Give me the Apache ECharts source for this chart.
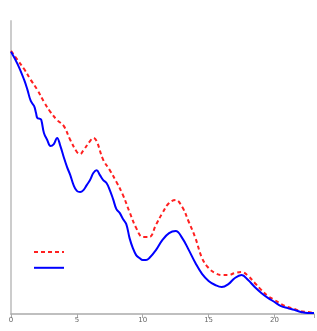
<!DOCTYPE html>
<html><head><meta charset="utf-8">
<script src="https://cdn.jsdelivr.net/npm/echarts@6/dist/echarts.min.js"></script>
<style>html,body{margin:0;padding:0;background:#fff}#c{width:317px;height:331px}</style>
</head><body><div id="c"></div>
<script>
const xTicks = [0, 5, 10, 15, 20];
const redX = [0,0.5,1,1.5,2,2.5,3,3.5,4,4.5,5,5.25,5.5,6,6.25,6.5,7,7.5,8,8.5,9,9.5,10,10.5,11,11.5,12,12.5,13,13.5,14,14.5,15,15.5,16,16.5,17,17.5,18,18.5,19,19.5,20,20.5,21,21.5,22,22.5,23];
const redY = [89.8,86.7,83.6,79.9,76.5,72.4,68.9,66.2,64.2,59.4,55.3,54.6,55.9,59.0,60.1,59.0,52.6,49.1,45.1,40.6,34.8,29.4,26.3,26.3,30.4,34.5,37.9,38.9,36.5,31.4,25.9,19.1,15.7,14.0,13.3,13.3,14.0,14.3,13.0,10.6,8.2,6.1,4.8,3.4,2.4,1.7,1.0,0.7,0.3];
const blueX = [0,0.5,1,1.25,1.5,1.75,1.9,2,2.2,2.3,2.5,2.75,3,3.25,3.5,3.75,4,4.25,4.5,4.75,5,5.25,5.5,5.75,6,6.25,6.5,6.75,7,7.25,7.5,7.75,8,8.25,8.5,8.75,9,9.25,9.5,9.75,10,10.25,10.5,11,11.5,12,12.5,13,13.5,14,14.5,15,15.5,16,16.5,17,17.5,18,18.5,19,19.5,20,20.5,21,21.5,22,22.5,23];
const blueY = [89.5,85.3,79.9,76.5,72.7,71.0,68.6,66.9,66.6,66.2,61.8,59.4,57.3,58.0,60.1,57.3,53.6,50.2,47.4,44.0,42.0,41.6,42.3,44.0,45.7,48.1,49.1,47.4,45.7,44.7,42.3,39.2,35.8,34.5,32.4,30.7,25.9,22.5,20.1,19.1,18.4,18.4,19.1,21.8,25.3,27.6,28.3,25.9,21.8,17.4,13.7,11.3,9.9,9.2,10.2,12.3,13.3,11.6,9.2,7.2,5.5,4.1,2.7,2.0,1.4,0.7,0.3,0.3];

const chart = echarts.init(document.getElementById('c'), null, {renderer:'canvas'});
chart.setOption({
  animation: false,
  grid: {left: 11, right: 1, top: 21, bottom: 17},
  legend: {
    orient: 'vertical', left: 28, top: 241, itemWidth: 30, itemHeight: 12, itemGap: 5,
    formatter: () => '', data: ['A','B'],
    itemStyle: {opacity: 0}
  },
  xAxis: {
    type: 'value', min: 0, max: 23, interval: 5,
    axisLine: {lineStyle: {color: '#aaa', width: 1.5}},
    axisTick: {show: true, length: 4, lineStyle: {color: '#aaa'}},
    axisLabel: {fontSize: 7, color: '#666', margin: 3, fontFamily: 'DejaVu Sans',
      formatter: v => xTicks.includes(v) ? String(v) : ''},
    splitLine: {show: false}
  },
  yAxis: {
    type: 'value', min: 0, max: 100,
    axisLine: {show: true, lineStyle: {color: '#ccc', width: 2}},
    axisTick: {show: false}, axisLabel: {show: false}, splitLine: {show: false}
  },
  series: [
    {name: 'A', type: 'line', smooth: 0.4, symbol: 'none',
     lineStyle: {color: '#ff2020', width: 2, type: [4, 3]}, itemStyle: {color: '#ff2020'},
     data: redX.map((x, i) => [x, redY[i]])},
    {name: 'B', type: 'line', smooth: 0.4, symbol: 'none',
     lineStyle: {color: '#0000ff', width: 2}, itemStyle: {color: '#0000ff'},
     data: blueX.map((x, i) => [x, blueY[i]])}
  ]
});
</script></body></html>
